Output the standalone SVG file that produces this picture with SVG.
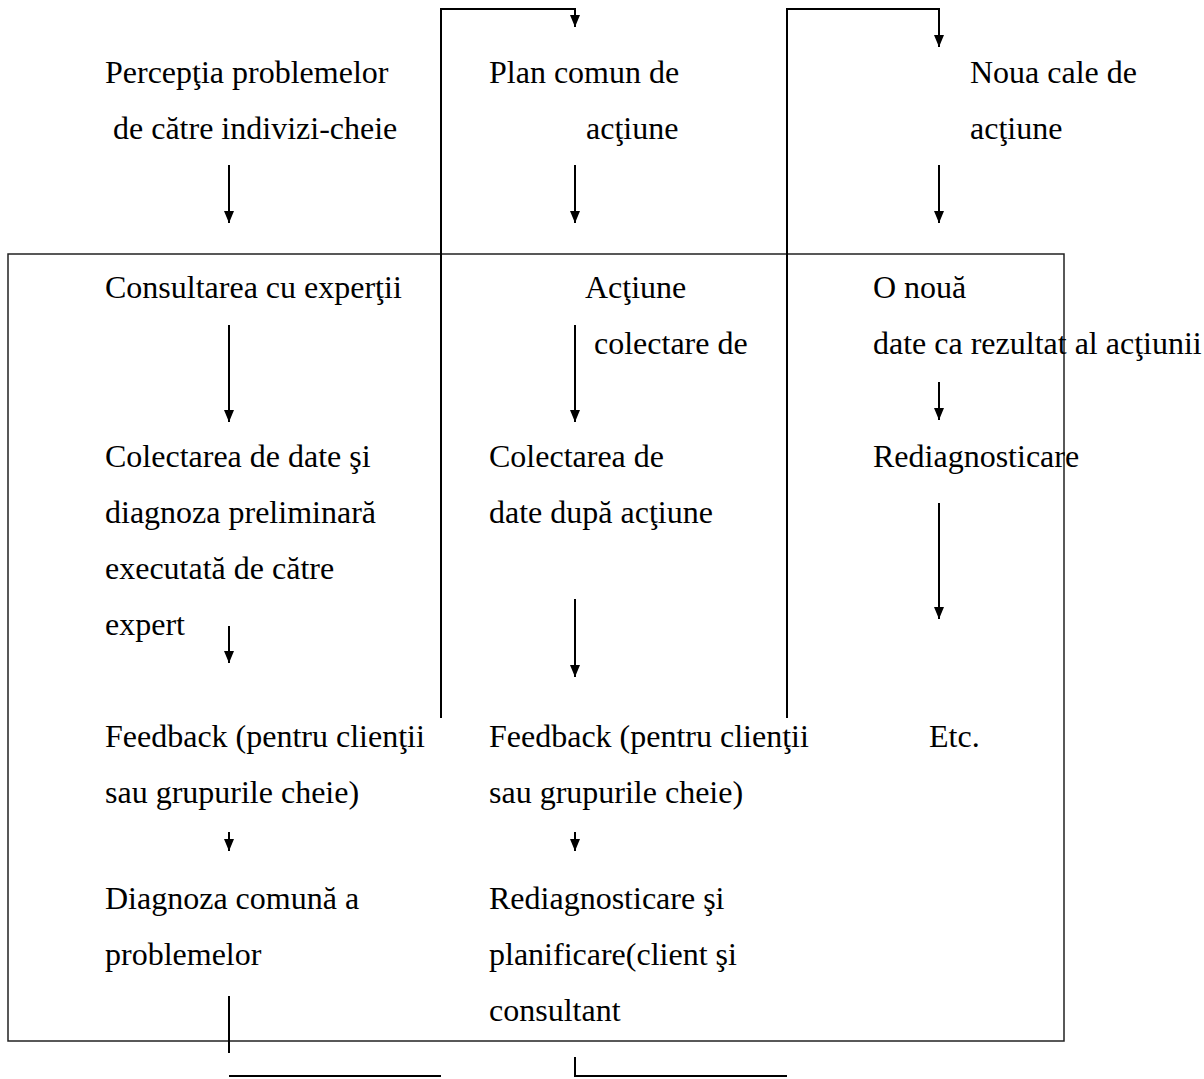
<svg xmlns="http://www.w3.org/2000/svg" width="1204" height="1079" viewBox="0 0 1204 1079">
  <style>
    text { font-family: "Liberation Serif", "Times New Roman", serif; font-size: 32px; fill: #000; }
    .ln { stroke: #000; stroke-width: 2; fill: none; }
    .arr { stroke: #000; stroke-width: 2; fill: none; marker-end: url(#tip); }
    .frame { stroke: #222; stroke-width: 1.5; fill: none; }
  </style>
  <defs>
    <marker id="tip" viewBox="0 0 12 10" refX="12" refY="5" markerWidth="12" markerHeight="10" markerUnits="userSpaceOnUse" orient="auto">
      <path d="M0,0 L12,5 L0,10 z" fill="#000"/>
    </marker>
  </defs>

  <rect id="frame" class="frame" x="8" y="254" width="1056" height="787"/>

  <!-- column 1 -->
  <g id="perceptia"><text x="105" y="83">Percepţia problemelor</text><text x="113" y="139">de către indivizi-cheie</text></g>
  <g id="consultarea"><text x="105" y="298">Consultarea cu experţii</text></g>
  <g id="colectarea1"><text x="105" y="467">Colectarea de date şi</text><text x="105" y="523">diagnoza preliminară</text><text x="105" y="579">executată de către</text><text x="105" y="635">expert</text></g>
  <g id="feedback1"><text x="105" y="747">Feedback (pentru clienţii</text><text x="105" y="803">sau grupurile cheie)</text></g>
  <g id="diagnoza"><text x="105" y="909">Diagnoza comună a</text><text x="105" y="965">problemelor</text></g>

  <!-- column 2 -->
  <g id="plan"><text x="489" y="83">Plan comun de</text><text x="586" y="139">acţiune</text></g>
  <g id="actiune"><text x="585" y="298">Acţiune</text><text x="594" y="354">colectare de</text></g>
  <g id="colectarea2"><text x="489" y="467">Colectarea de</text><text x="489" y="523">date după acţiune</text></g>
  <g id="feedback2"><text x="489" y="747">Feedback (pentru clienţii</text><text x="489" y="803">sau grupurile cheie)</text></g>
  <g id="rediag2"><text x="489" y="909">Rediagnosticare şi</text><text x="489" y="965">planificare(client şi</text><text x="489" y="1021">consultant</text></g>

  <!-- column 3 -->
  <g id="noua"><text x="970" y="83">Noua cale de</text><text x="970" y="139">acţiune</text></g>
  <g id="onoua"><text x="873" y="298">O nouă</text><text x="873" y="354">date ca rezultat al acţiunii</text></g>
  <g id="rediag3"><text x="873" y="467">Rediagnosticare</text></g>
  <g id="etc"><text x="929" y="747">Etc.</text></g>

  <g id="connectors">
    <line class="arr" x1="229" y1="165" x2="229" y2="223"/>
    <line class="arr" x1="575" y1="165" x2="575" y2="223"/>
    <line class="arr" x1="939" y1="165" x2="939" y2="223"/>
    <line class="arr" x1="229" y1="325" x2="229" y2="422"/>
    <line class="arr" x1="575" y1="325" x2="575" y2="422"/>
    <line class="arr" x1="939" y1="382" x2="939" y2="420"/>
    <line class="arr" x1="939" y1="503" x2="939" y2="619"/>
    <line class="arr" x1="229" y1="626" x2="229" y2="663"/>
    <line class="arr" x1="575" y1="599" x2="575" y2="677"/>
    <line class="arr" x1="229" y1="832" x2="229" y2="851"/>
    <line class="arr" x1="575" y1="832" x2="575" y2="851"/>
    <!-- loops back to the top row -->
    <path class="arr" d="M441,718 V9 H575 V27"/>
    <path class="arr" d="M787,718 V9 H939 V47"/>
    <!-- bottom links -->
    <line class="ln" x1="229" y1="996" x2="229" y2="1053"/>
    <line class="ln" x1="229" y1="1076" x2="441" y2="1076"/>
    <path class="ln" d="M575,1057 V1076 H787"/>
  </g>
</svg>
